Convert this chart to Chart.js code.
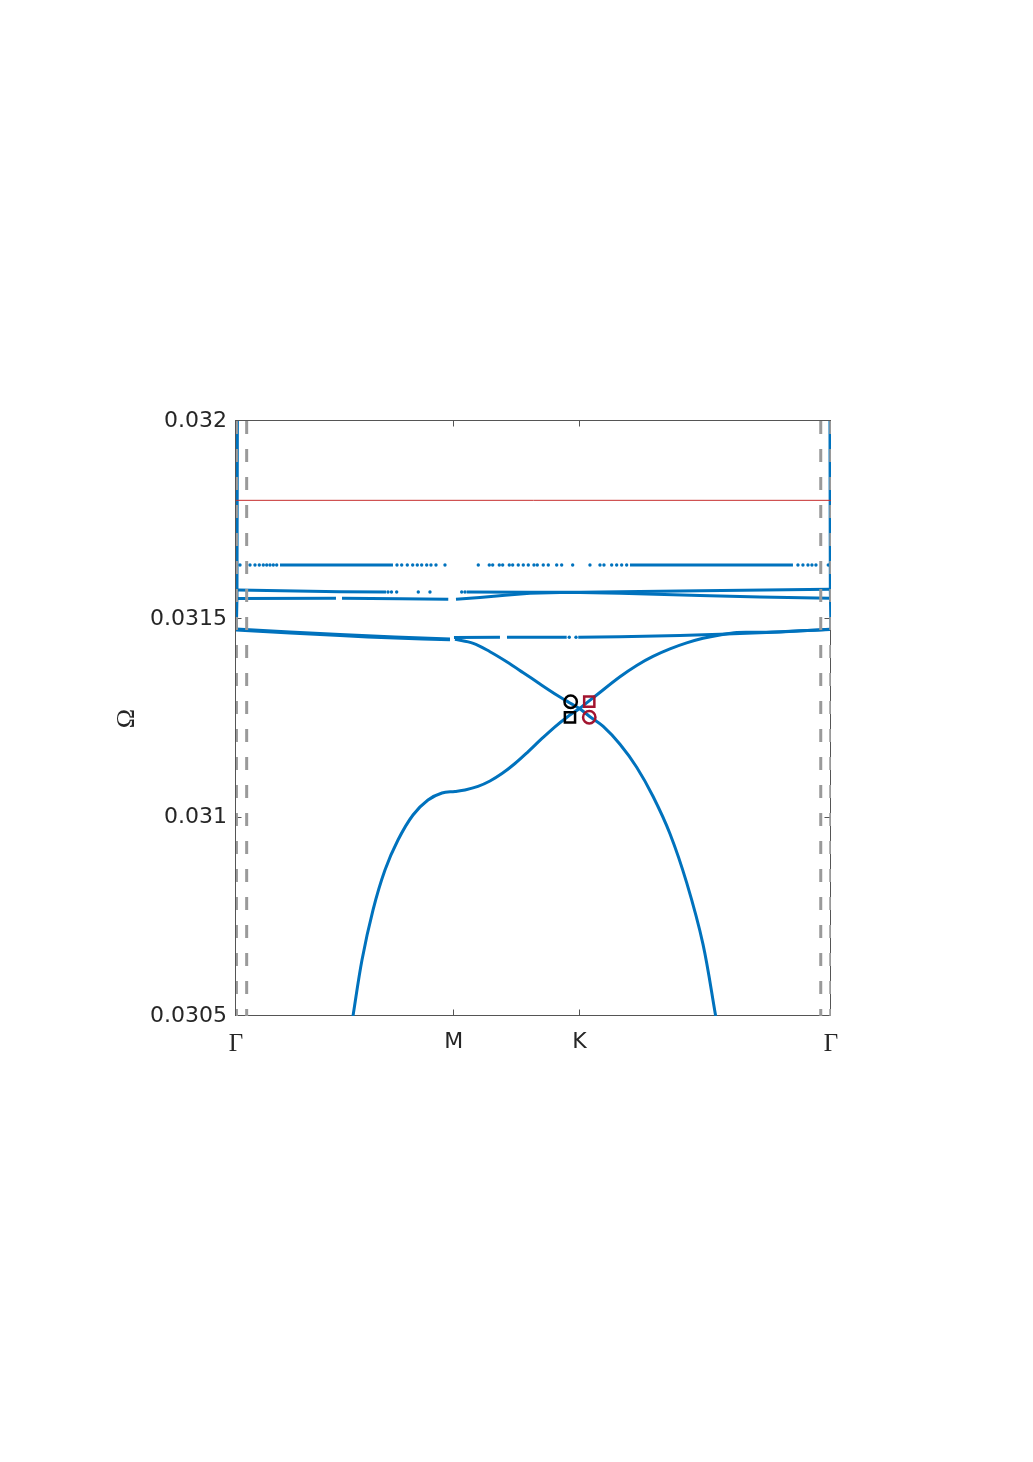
<!DOCTYPE html>
<html><head><meta charset="utf-8">
<script src="https://cdn.jsdelivr.net/npm/chart.js@4.4.1/dist/chart.umd.min.js"></script>
<style>html,body{margin:0;padding:0;background:#fff;}canvas{display:block;}</style>
</head><body>
<canvas id="c" width="1033" height="1462"></canvas>
<script>
// ---- axes ----
const kTicks = [0, 1, 1.5774, 2.7321];
const kTickLabels = ['Γ', 'M', 'K', 'Γ'];
const wTicks = [0.0305, 0.031, 0.0315, 0.032];
const wTickLabels = ['0.0305', '0.031', '0.0315', '0.032'];
const kMin = 0, kMax = 2.7321, wMin = 0.0305, wMax = 0.032;

// ---- band E: rises from bottom, through the crossing at K, to Γ ----
const bandE_k = [0.5372, 0.5785, 0.6290, 0.6841, 0.7438, 0.8127, 0.8815, 0.9458, 1.0055, 1.0514, 1.1111, 1.1662, 1.2213, 1.2810, 1.3407, 1.4004, 1.4646, 1.5197, 1.5771, 1.6561, 1.7631, 1.8398, 1.9146, 1.9927, 2.0693, 2.1442, 2.2222, 2.3003, 2.4059, 2.5895, 2.7273];
const bandE_w = [0.0305, 0.0306412, 0.0307672, 0.0308681, 0.0309437, 0.0310067, 0.0310445, 0.0310622, 0.031066, 0.0310698, 0.0310788, 0.0310924, 0.0311111, 0.0311366, 0.0311661, 0.0311973, 0.0312291, 0.0312533, 0.0312752, 0.0313093, 0.0313552, 0.0313838, 0.0314065, 0.0314254, 0.0314405, 0.0314522, 0.0314607, 0.0314668, 0.0314673, 0.0314711, 0.0314744];

// ---- band F: Γ-M, then falls from M through K to bottom ----
const bandF_k = [0, 0.2479, 0.4775, 0.7300, 0.9826, null, 1.0055, 1.0895, 1.1662, 1.2429, 1.3191, 1.3958, 1.4725, 1.5335, 1.5771, 1.6253, 1.6850, 1.7631, 1.8398, 1.9146, 1.9927, 2.0693, 2.1442, 2.2025];
const bandF_w = [0.0314731, 0.0314655, 0.031459, 0.0314527, 0.0314484, null, 0.0314497, 0.0314396, 0.0314184, 0.0313932, 0.0313655, 0.031337, 0.0313093, 0.0312891, 0.0312752, 0.0312545, 0.0312306, 0.0311852, 0.0311272, 0.0310541, 0.0309596, 0.0308361, 0.0306811, 0.0305];

// ---- band C: nearly flat band near 0.03145 ----
const bandC_k = [0, 0.2479, 0.4775, 0.7300, 0.9826, null, 1.0009, 1.2121, null, 1.2443, 1.5184, null, 1.5716, 1.7631, 2.0386, 2.2222, 2.4977, 2.7273];
const bandC_w = [0.0314756, 0.0314681, 0.0314615, 0.0314552, 0.0314507, null, 0.0314542, 0.0314547, null, 0.0314547, 0.031455, null, 0.031455, 0.0314562, 0.0314592, 0.0314623, 0.0314681, 0.0314749];
const bandC_dotK = [1.5303, 1.5611];
const bandC_dotW = [0.031455, 0.031455];

// ---- band H: upper of the pair near 0.03157 ----
const bandH_k = [0.0092, 0.4775, 0.6887, null, 1.0592, 1.3499, 1.5794, 1.7631, 2.1304, 2.7273];
const bandH_w = [0.031574, 0.0315697, 0.0315689, null, 0.0315689, 0.0315684, 0.0315682, 0.0315697, 0.0315722, 0.0315757];
const bandH_dotK = [0.6979, 0.7139, 0.7378, 0.8370, 0.8907, 1.0363, 1.0514];
const bandH_dotW = [0.031569, 0.031569, 0.031569, 0.031569, 0.031569, 0.031569, 0.031569];

// ---- band I: lower of the pair near 0.03155 ----
const bandI_k = [0.0092, 0.4591, null, 0.4867, 0.7530, 0.9747, null, 1.0101, 1.1203, 1.2351, 1.3499, 1.4876, 1.5794, 1.7631, 2.1304, 2.4059, 2.7273];
const bandI_w = [0.0315525, 0.0315533, null, 0.031553, 0.0315522, 0.0315505, null, 0.0315505, 0.031555, 0.0315608, 0.0315656, 0.0315674, 0.0315679, 0.0315656, 0.0315601, 0.0315563, 0.031553];

// ---- band G: dotted flat band near 0.03164 ----
const bandG_k = [0.2020, 0.7208, null, 1.8090, 2.5574];
const bandG_w = [0.031637, 0.031637, null, 0.031637, 0.031637];
const bandG_dotK = [0.0184, 0.0643, 0.0872, 0.1070, 0.1253, 0.1410, 0.1561, 0.1713, 0.1869,
  0.7392, 0.7608, 0.7865, 0.8113, 0.8324, 0.8526, 0.8756, 0.8953, 0.9183, 0.9596,
  1.1125, 1.1630, 1.1786, 1.2089, 1.2245, 1.2548, 1.2704, 1.2961, 1.3191, 1.3421, 1.3682, 1.3834, 1.4109, 1.4339, 1.4725, 1.4954, 1.5459,
  1.6253, 1.6713, 1.6896, 1.7250, 1.7479, 1.7709, 1.7938,
  2.5803, 2.6033, 2.6263, 2.6446, 2.6630, 2.7195];
const bandG_dotW = bandG_dotK.map(() => 0.031637);

// ---- steep bands at the Γ edges ----
const edgeL_k = [0.0065, 0.0045, 0.0015];
const edgeL_w = [0.03201, 0.031555, 0.031475];
const edgeR_k = [2.7273, 2.729, 2.7319];
const edgeR_w = [0.03201, 0.031574, 0.031475];

// ---- reference line ----
const redK = [0, 2.7321];
const redW = [0.0318, 0.0318];

// ---- dashed vertical guides ----
const dashK = [0.002, 0.049, 2.685, 2.731];

// ---- markers near K ----
const markK = [1.5367, 1.5335, 1.6221, 1.6221];
const markW = [0.0312924, 0.031253, 0.0312924, 0.031253];
const markStyle = ['circle', 'rect', 'rect', 'circle'];
const markColor = ['#000000', '#000000', '#A2142F', '#A2142F'];
const markRadius = [6.2, 7.2, 7.2, 6.2];

const BLUE = '#0072BD';
function pairs(k, w) { return k.map((v, i) => ({x: v, y: w[i]})); }
// split a band at its null gaps into separate line datasets
function lineSets(k, w, extra) {
  const out = []; let cur = [];
  k.forEach((v, i) => {
    if (v === null) { if (cur.length) out.push(cur); cur = []; }
    else cur.push({x: v, y: w[i]});
  });
  if (cur.length) out.push(cur);
  return out.map(d => Object.assign({data: d, showLine: true, borderColor: BLUE, borderWidth: 3,
    pointRadius: 0, pointHoverRadius: 0, tension: 0, order: 3}, extra || {}));
}
function dotSet(k, w) {
  return {data: pairs(k, w), showLine: false, pointRadius: 1.7, pointBorderWidth: 0,
    pointBackgroundColor: BLUE, pointHoverRadius: 0, order: 3};
}
const dashData = [];
dashK.forEach((k, i) => { if (i) dashData.push({x: null, y: null}); dashData.push({x: k, y: wMax}, {x: k, y: wMin}); });

const axesFrame = {
  id: 'axesFrame',
  beforeDatasetsDraw(chart) {
    const {ctx, chartArea: a, scales: {x, y}} = chart;
    ctx.save();
    ctx.strokeStyle = '#555555';
    ctx.lineWidth = 1;
    const L = Math.round(a.left) - 0.5, R = Math.round(a.right) - 0.5, T = Math.round(a.top) - 0.5, B = Math.round(a.bottom) - 0.5;
    ctx.strokeRect(L, T, R - L, B - T);
    ctx.beginPath();
    wTicks.forEach(v => { const p = Math.round(y.getPixelForValue(v)) - 0.5; ctx.moveTo(L, p); ctx.lineTo(L + 6, p); ctx.moveTo(R, p); ctx.lineTo(R - 6, p); });
    kTicks.forEach(v => { const p = Math.round(x.getPixelForValue(v)) - 0.5; ctx.moveTo(p, B); ctx.lineTo(p, B - 6); ctx.moveTo(p, T); ctx.lineTo(p, T + 6); });
    ctx.stroke();
    ctx.restore();
  }
};

new Chart(document.getElementById('c'), {
  type: 'scatter',
  data: {datasets: [
    {data: pairs(markK, markW), showLine: false, pointStyle: markStyle, pointRadius: markRadius,
     pointBorderColor: markColor, pointBackgroundColor: 'rgba(0,0,0,0)', pointBorderWidth: 2.5, pointHoverRadius: markRadius, order: 0},
    {data: dashData, showLine: true, borderColor: '#9a9a9a', borderWidth: 3, borderDash: [13, 15],
     pointRadius: 0, pointHoverRadius: 0, spanGaps: false, order: 1},
    {data: pairs(redK, redW), showLine: true, borderColor: '#c62d2d', borderWidth: 1, pointRadius: 0, pointHoverRadius: 0, order: 2},
    ...lineSets(bandE_k, bandE_w, {tension: 0.35}),
    ...lineSets(bandF_k, bandF_w, {tension: 0.35}),
    ...lineSets(bandC_k, bandC_w),
    dotSet(bandC_dotK, bandC_dotW),
    ...lineSets(bandH_k, bandH_w),
    dotSet(bandH_dotK, bandH_dotW),
    ...lineSets(bandI_k, bandI_w),
    ...lineSets(bandG_k, bandG_w),
    dotSet(bandG_dotK, bandG_dotW),
    ...lineSets(edgeL_k, edgeL_w),
    ...lineSets(edgeR_k, edgeR_w)
  ]},
  options: {
    responsive: false, animation: false, devicePixelRatio: 1,
    layout: {padding: {top: 421, right: 202, bottom: 396, left: 0}},
    plugins: {legend: {display: false}, tooltip: {enabled: false}},
    events: [],
    scales: {
      x: {type: 'linear', min: kMin, max: kMax,
        afterBuildTicks: s => { s.ticks = kTicks.map(v => ({value: v})); },
        afterFit: s => { s.height = 50; },
        grid: {display: false, drawTicks: false}, border: {display: false},
        ticks: {autoSkip: false, maxRotation: 0, padding: 13, color: '#262626',
          callback: (v, i) => kTickLabels[i],
          font: c => kTickLabels[c.index] === 'Γ' ? {family: 'Liberation Serif', size: 25} : {family: 'DejaVu Sans', size: 22}}
      },
      y: {type: 'linear', min: wMin, max: wMax,
        afterBuildTicks: s => { s.ticks = wTicks.map(v => ({value: v})); },
        afterFit: s => { s.width = 236; },
        grid: {display: false, drawTicks: false}, border: {display: false},
        ticks: {autoSkip: false, padding: 9, color: '#262626',
          callback: (v, i) => wTickLabels[i],
          font: {family: 'DejaVu Sans', size: 22}},
        title: {display: true, text: 'Ω', color: '#262626', font: {family: 'Liberation Serif', size: 26},
          padding: {top: 112, bottom: 0}}
      }
    }
  },
  plugins: [axesFrame]
});
</script>
</body></html>
